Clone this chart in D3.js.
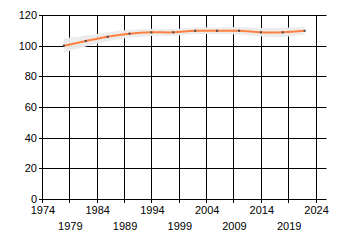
<!DOCTYPE html>
<html>
<head>
<meta charset="utf-8">
<script src="https://cdn.jsdelivr.net/npm/d3@7"></script>
<style>
  body { margin: 0; background: #fff; }
  text { font-family: "Liberation Sans", Arial, sans-serif; font-size: 11px; fill: #000; }
</style>
</head>
<body>
<script>
// values
const years = [1978, 1982, 1986, 1990, 1994, 1998, 2002, 2006, 2010, 2014, 2018, 2022];
const values = [100, 103, 105.8, 107.8, 108.7, 108.7, 109.7, 109.7, 109.7, 108.7, 108.7, 109.7];
const bandUpper = [104.7, 106.6, 108.8, 110.4, 111.1, 110.9, 111.9, 111.9, 112.1, 111.5, 111.7, 112.3];
const bandLower = [95.3, 99.4, 102.8, 105.2, 106.3, 106.5, 107.5, 107.5, 107.3, 105.9, 105.7, 107.1];
const yTicks = [0, 20, 40, 60, 80, 100, 120];
const xTicks = [1974, 1979, 1984, 1989, 1994, 1999, 2004, 2009, 2014, 2019, 2024];

const width = 340, height = 245;
const margin = {top: 15, right: 13.5, bottom: 46, left: 42};

const x = d3.scaleLinear()
  .domain([1974, 2026])
  .range([margin.left, width - margin.right]);
const y = d3.scaleLinear()
  .domain([0, 120])
  .range([height - margin.bottom, margin.top]);

const svg = d3.select('body').append('svg')
  .attr('width', width)
  .attr('height', height);

const pts = years.map((yr, i) => ({yr: yr, v: values[i], hi: bandUpper[i], lo: bandLower[i]}));

// grid
svg.append('g')
  .selectAll('line')
  .data(yTicks)
  .join('line')
  .attr('x1', x(1974)).attr('x2', x(2026))
  .attr('y1', d => Math.round(y(d)) + 0.5).attr('y2', d => Math.round(y(d)) + 0.5)
  .attr('stroke', '#000');

svg.append('g')
  .selectAll('line')
  .data(xTicks)
  .join('line')
  .attr('x1', d => Math.round(x(d)) + 0.5).attr('x2', d => Math.round(x(d)) + 0.5)
  .attr('y1', y(120)).attr('y2', y(0) + 4)
  .attr('stroke', '#000');

// y axis
svg.append('line')
  .attr('x1', margin.left + 0.5).attr('x2', margin.left + 0.5)
  .attr('y1', y(120)).attr('y2', y(0) + 1)
  .attr('stroke', '#000');
svg.append('g')
  .selectAll('line')
  .data(yTicks)
  .join('line')
  .attr('x1', margin.left - 3).attr('x2', margin.left)
  .attr('y1', d => Math.round(y(d)) + 0.5).attr('y2', d => Math.round(y(d)) + 0.5)
  .attr('stroke', '#000');
svg.append('g')
  .selectAll('text')
  .data(yTicks)
  .join('text')
  .attr('x', margin.left - 5)
  .attr('y', d => y(d) + 4)
  .attr('text-anchor', 'end')
  .text(d => d);

// x labels, two rows
svg.append('g')
  .selectAll('text')
  .data(xTicks)
  .join('text')
  .attr('x', d => x(d) + 1)
  .attr('y', (d, i) => i % 2 === 0 ? 214 : 230)
  .attr('text-anchor', 'middle')
  .text(d => d);

// confidence band
const area = d3.area()
  .x(d => x(d.yr))
  .y0(d => y(d.lo))
  .y1(d => y(d.hi))
  .curve(d3.curveCatmullRom);
svg.append('path')
  .datum(pts)
  .attr('d', area)
  .attr('fill', '#ebebeb')
  .attr('opacity', 0.95);

// line
const line = d3.line()
  .x(d => x(d.yr))
  .y(d => y(d.v))
  .curve(d3.curveCatmullRom);
svg.append('path')
  .datum(pts)
  .attr('d', line)
  .attr('fill', 'none')
  .attr('stroke', '#ff8040')
  .attr('stroke-width', 2);

// markers
svg.append('g')
  .selectAll('rect')
  .data(pts)
  .join('rect')
  .attr('x', d => x(d.yr) - 1)
  .attr('y', d => y(d.v) - 1)
  .attr('width', 2)
  .attr('height', 2)
  .attr('fill', '#444');
</script>
</body>
</html>
